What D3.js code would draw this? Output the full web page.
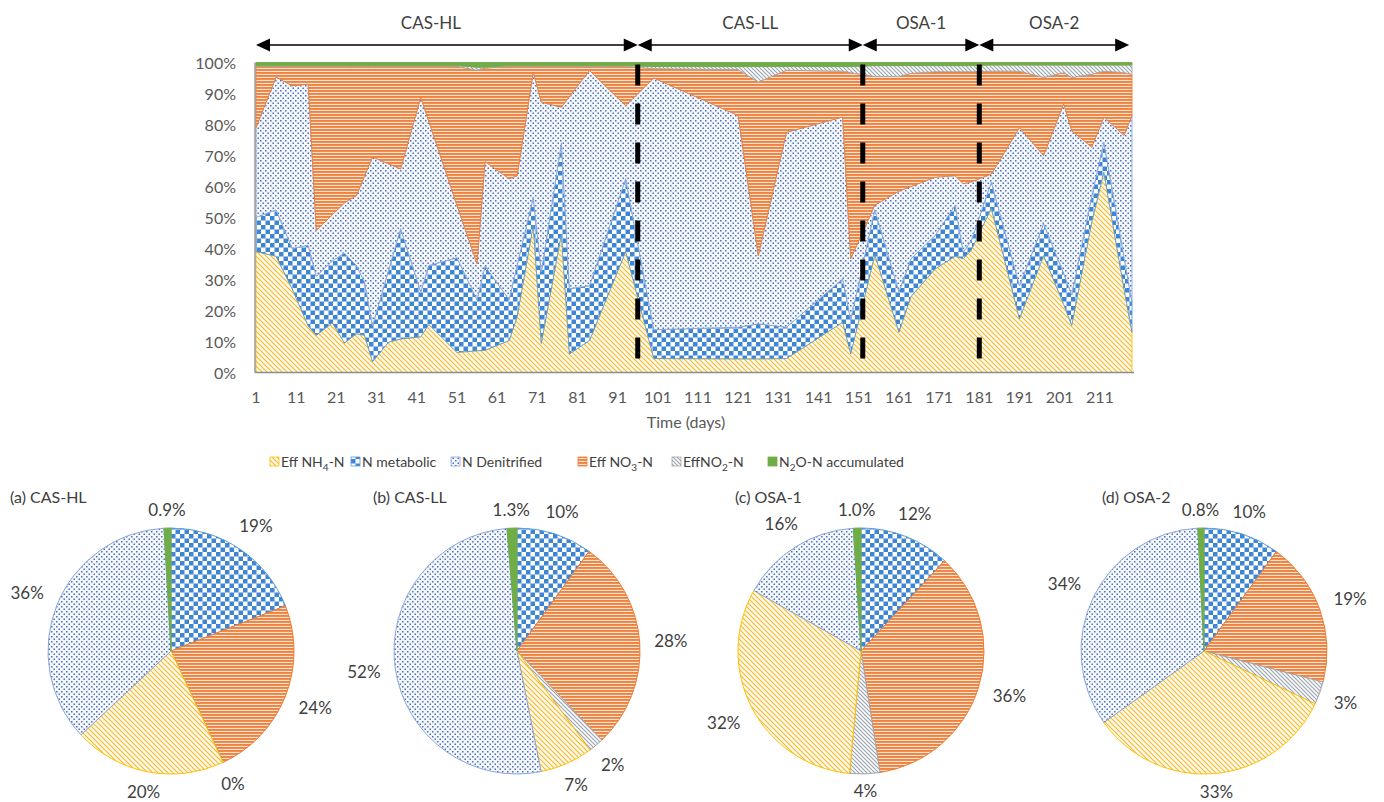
<!DOCTYPE html>
<html><head><meta charset="utf-8">
<script src="https://cdn.jsdelivr.net/npm/d3@7"></script>
<style>
body{margin:0;background:#fff;}
text{font-family:Lato,"Open Sans",sans-serif;fill:#404040;}
</style>
</head><body>
<svg id="c" width="1384" height="802"></svg>
<script>
// ---------------- DATA ----------------
const days =         [1,   6,   10,  14,  16,  20,  23,  26,  28,  30,  34,  37,  42,  44,  51,  56,  58,  64,  66,  70,  72,  77,  79,  84,  93,  100, 121, 126, 133, 147, 149, 155, 161, 164, 170, 175, 177, 179, 184, 191, 197, 202, 204, 209, 212, 217, 219];
const effNH4 =       [39,  37.5,27,  15,  12,  16,  9.5, 12.5,12,  3.5, 9.8, 10.8,11.5,15.5,6.5, 7,   7.2, 10.3,18,  47.5,9.4, 44.7,6,   10.3,39,  4.5, 4.4, 4.4, 4.5, 16.2,6,   38,  13,  24.5,33.4,37.5,36.7,39.5,53,  17.3,37.7,22,  15.2,48.6,64.6,27,  13];
const nMetabolic =   [11,  15,  13,  26,  19,  20,  29,  22,  17.2,11.5,23.2,35.6,14.5,19,  30.5,16.5,27.3,13.2,16.7,9,   23,  29.3,21,  17.7,23.5,9.3, 10.2,11.3,10.1,14,  11,  14.5,13,  12.2,10.8,16.4,2.1, 3,   8.4, 10.7,10.3,10,  9.8, 8.4, 9.7, 10.4,9.7];
const nDenitrified = [29,  42.8,52.5,52,  14.8,14.9,16.2,22.6,34.1,54.5,34.3,19.3,62.8,46.5,17,  11.6,33.9,39,  28.8,40.4,54.8,11.6,62,  69.4,23.6,81.2,68.3,22,  62.9,52.2,19.7,1.5, 32.5,23.3,18.8,9.6, 22.1,19,  2.6, 51,  22,  54.7,53,  15.7,8.1, 39.1,60.2];
const effNO3 =       [19.7,3.4, 6.2, 5.7, 52.9,47.8,44,  41.6,35.4,29.2,31.4,33,  9.9, 17.7,44.7,62.4,30.3,36.2,35.2,1.8, 11.5,13.1,9.7, 1.3, 12.6,3,   14.8,56,  20,  14.8,60,  41.5,37,  36.5,34,  33.5,36.1,35.5,33.2,18.2,25.2,10,  17.2,23.5,14.8,20.2,13.3];
const effNO2 =       [0.3, 0.3, 0.3, 0.3, 0.3, 0.3, 0.3, 0.3, 0.3, 0.3, 0.3, 0.3, 0.3, 0.3, 0.3, 1,   0.3, 0.3, 0.3, 0.3, 0.3, 0.3, 0.3, 0.3, 0.3, 0.7, 1,   5,   1.2, 1.5, 2,   3.5, 3.5, 2.5, 2,   2,   2,   2,   2,   2,   4,   2.5, 4,   3,   2,   2.5, 3];
const n2oAcc =       [1,   1,   1,   1,   1,   1,   1,   1,   1,   1,   1,   1,   1,   1,   1,   1.5, 1.5, 1,   1,   1,   1,   1,   1,   1,   1,   1.3, 1.3, 1.3, 1.3, 1.3, 1.3, 1,   1,   1,   1,   1,   1,   1,   0.8, 0.8, 0.8, 0.8, 0.8, 0.8, 0.8, 0.8, 0.8];

const yTicks = [0, 0.1, 0.2, 0.3, 0.4, 0.5, 0.6, 0.7, 0.8, 0.9, 1];
const xTicks = [1, 11, 21, 31, 41, 51, 61, 71, 81, 91, 101, 111, 121, 131, 141, 151, 161, 171, 181, 191, 201, 211];

const phaseNames = ["CAS-HL", "CAS-LL", "OSA-1", "OSA-2"];
const phaseStart = [1, 96, 152, 181];
const phaseEnd   = [96, 152, 181, 218.3];
const phaseDividers = [96, 152, 181];

const pieTitles = ["(a) CAS-HL", "(b) CAS-LL", "(c) OSA-1", "(d) OSA-2"];
const pieMet = [19, 10, 12, 10];
const pieNO3 = [24, 28, 36, 19];
const pieNO2 = [0, 2, 4, 3];
const pieNH4 = [20, 7, 32, 33];
const pieDen = [36, 52, 16, 34];
const pieN2O = [0.9, 1.3, 1.0, 0.8];

// ---------------- STYLE / LAYOUT ----------------
const svg = d3.select("#c");
svg.append("rect").attr("width", 1384).attr("height", 802).attr("fill", "#fff");
const defs = svg.append("defs");
function pat(id, w, h, build) {
  const p = defs.append("pattern").attr("id", id).attr("patternUnits", "userSpaceOnUse")
    .attr("width", w).attr("height", h);
  build(p, w, h);
}
pat("pNH4", 5, 5, (p, w, h) => {
  p.append("rect").attr("width", w).attr("height", h).attr("fill", "#fffaf0");
  p.append("path").attr("d", "M0,0L5,5M-1,4L1,6M4,-1L6,1").attr("stroke", "#F7B928").attr("stroke-width", 1.15);
});
pat("pMet", 9, 9, (p) => {
  p.append("rect").attr("width", 9).attr("height", 9).attr("fill", "#fff");
  p.append("rect").attr("width", 4.5).attr("height", 4.5).attr("fill", "#3E86D4");
  p.append("rect").attr("x", 4.5).attr("y", 4.5).attr("width", 4.5).attr("height", 4.5).attr("fill", "#3E86D4");
});
pat("pDen", 5, 5, (p) => {
  p.append("rect").attr("width", 5).attr("height", 5).attr("fill", "#f4f7fc");
  p.append("rect").attr("x", 0).attr("y", 0).attr("width", 1.5).attr("height", 1.5).attr("fill", "#4d6fbe");
  p.append("rect").attr("x", 2.5).attr("y", 2.5).attr("width", 1.5).attr("height", 1.5).attr("fill", "#4d6fbe");
});
pat("pNO3", 6, 3, (p) => {
  p.append("rect").attr("width", 6).attr("height", 3).attr("fill", "#fbe3d3");
  p.append("rect").attr("width", 6).attr("height", 1.9).attr("fill", "#EE8340");
});
pat("pNO2", 4, 4, (p) => {
  p.append("rect").attr("width", 4).attr("height", 4).attr("fill", "#fff");
  p.append("path").attr("d", "M0,0L4,4M-1,3L1,5M3,-1L5,1").attr("stroke", "#9aa3b0").attr("stroke-width", 1.2);
});

const keys = ["nh4", "met", "den", "no3", "no2", "n2o"];
const fills = {nh4: "url(#pNH4)", met: "url(#pMet)", den: "url(#pDen)", no3: "url(#pNO3)", no2: "url(#pNO2)", n2o: "#70AD47"};
const strokes = {nh4: "#FFC000", met: "#5B9BD5", den: "#8aa6dc", no3: "#ED7D31", no2: "#A5A5A5", n2o: "#70AD47"};

// ---------------- AREA CHART ----------------
const x = d3.scaleLinear().domain([1, 219.5]).range([256, 1134]);
const y = d3.scaleLinear().domain([0, 1]).range([372.5, 62.5]);

const rows = days.map((d, i) => ({day: d, nh4: effNH4[i], met: nMetabolic[i], den: nDenitrified[i],
  no3: effNO3[i], no2: effNO2[i], n2o: n2oAcc[i]}));
const series = d3.stack().keys(keys).offset(d3.stackOffsetExpand)(rows);
const area = d3.area().x(d => x(d.data.day)).y0(d => y(d[0])).y1(d => y(d[1]));

svg.append("g").selectAll("path").data(series).join("path")
  .attr("d", area).attr("fill", s => fills[s.key]).attr("stroke", s => strokes[s.key])
  .attr("stroke-width", 0.9).attr("stroke-linejoin", "round");

// axes lines
svg.append("line").attr("x1", x(1) - 1).attr("x2", x(1) - 1).attr("y1", y(1)).attr("y2", y(0))
  .attr("stroke", "#8c8c8c").attr("stroke-width", 1.3);
svg.append("line").attr("x1", x(1) - 1).attr("x2", x(219.5)).attr("y1", y(0)).attr("y2", y(0))
  .attr("stroke", "#8c8c8c").attr("stroke-width", 1.3);

// tick labels
svg.append("g").selectAll("text").data(yTicks).join("text")
  .attr("x", 236).attr("y", d => y(d) + 6).attr("text-anchor", "end")
  .style("font-size", "16px").style("fill", "#595959").text(d => d3.format(".0%")(d));
svg.append("g").selectAll("text").data(xTicks).join("text")
  .attr("x", d => x(d)).attr("y", 403).attr("text-anchor", "middle")
  .style("font-size", "16px").style("fill", "#595959").text(d => d);
svg.append("text").attr("x", 686).attr("y", 428).attr("text-anchor", "middle")
  .style("font-size", "16px").style("fill", "#595959").text("Time (days)");

// phase dividers
svg.append("g").selectAll("line").data(phaseDividers).join("line")
  .attr("x1", d => x(d)).attr("x2", d => x(d)).attr("y1", y(1) + 2).attr("y2", y(0))
  .attr("stroke", "#000").attr("stroke-width", 5).attr("stroke-dasharray", "21,18");

// phase arrows and labels
const ay = 45, ah = 14, aw = 6.5;
const ag = svg.append("g");
phaseNames.forEach((nm, i) => {
  const x1 = x(phaseStart[i]), x2 = x(phaseEnd[i]);
  ag.append("line").attr("x1", x1 + 4).attr("x2", x2 - 4).attr("y1", ay).attr("y2", ay)
    .attr("stroke", "#000").attr("stroke-width", 1.5);
  ag.append("path").attr("d", `M${x1},${ay}L${x1 + ah},${ay - aw}L${x1 + ah},${ay + aw}Z`).attr("fill", "#000");
  ag.append("path").attr("d", `M${x2},${ay}L${x2 - ah},${ay - aw}L${x2 - ah},${ay + aw}Z`).attr("fill", "#000");
  ag.append("text").attr("x", (x1 + x2) / 2 - (i === 0 ? 16 : 0)).attr("y", 29).attr("text-anchor", "middle")
    .style("font-size", "17px").text(nm);
});

// ---------------- LEGEND ----------------
const legendItems = [
  {k: "nh4", parts: [["Eff NH"], ["4", 1], ["-N"]]},
  {k: "met", parts: [["N metabolic"]]},
  {k: "den", parts: [["N Denitrified"]]},
  {k: "no3", parts: [["Eff NO"], ["3", 1], ["-N"]]},
  {k: "no2", parts: [["EffNO"], ["2", 1], ["-N"]]},
  {k: "n2o", parts: [["N"], ["2", 1], ["O-N accumulated"]]}
];
const legendX = [270, 351, 451, 578, 672, 768];
const lg = svg.append("g");
legendItems.forEach((it, i) => {
  const lx = legendX[i];
  lg.append("rect").attr("x", lx).attr("y", 457).attr("width", 9).attr("height", 9)
    .attr("fill", fills[it.k]).attr("stroke", strokes[it.k]).attr("stroke-width", 0.8);
  const t = lg.append("text").attr("x", lx + 11).attr("y", 467).style("font-size", "14px");
  let sub = false;
  it.parts.forEach(p => {
    const ts = t.append("tspan").text(p[0]);
    if (p[1]) { ts.attr("dy", 4).style("font-size", "10px"); sub = true; }
    else if (sub) { ts.attr("dy", -4); sub = false; }
  });
});

// ---------------- PIES ----------------
const pieLayout = [{cx: 171, tx: 10}, {cx: 517, tx: 373}, {cx: 861, tx: 735}, {cx: 1204, tx: 1102}];
const pcy = 651, pr = 123;
const pieKeys = ["met", "no3", "no2", "nh4", "den", "n2o"];
const pieGen = d3.pie().sort(null).value(d => d.v);
const arc = d3.arc().innerRadius(0).outerRadius(pr);

pieTitles.forEach((title, i) => {
  const vals = [pieMet[i], pieNO3[i], pieNO2[i], pieNH4[i], pieDen[i], pieN2O[i]];
  const data = pieKeys.map((k, j) => ({k, v: vals[j]}));
  const g = svg.append("g").attr("transform", `translate(${pieLayout[i].cx},${pcy})`);
  const arcs = pieGen(data);
  g.selectAll("path").data(arcs).join("path").attr("d", arc)
    .attr("fill", d => fills[d.data.k]).attr("stroke", d => strokes[d.data.k]).attr("stroke-width", 1);
  svg.append("text").attr("x", pieLayout[i].tx).attr("y", 503).style("font-size", "16px").text(title);
  arcs.forEach(a => {
    const txt = a.data.k === "n2o" ? a.data.v.toFixed(1) + "%" : Math.round(a.data.v) + "%";
    const t = g.append("text").attr("text-anchor", "middle").style("font-size", "17px").text(txt);
    const w = t.node().getComputedTextLength(), h = 16;
    const ang = (a.startAngle + a.endAngle) / 2;
    const s = Math.sin(ang), c = Math.cos(ang);
    const R = pr + 9 + Math.abs(s) * (w / 2 + 5) + Math.abs(c) * h / 2;
    t.attr("x", s * R).attr("y", -c * R + 6);
  });
});
</script>
</body></html>
